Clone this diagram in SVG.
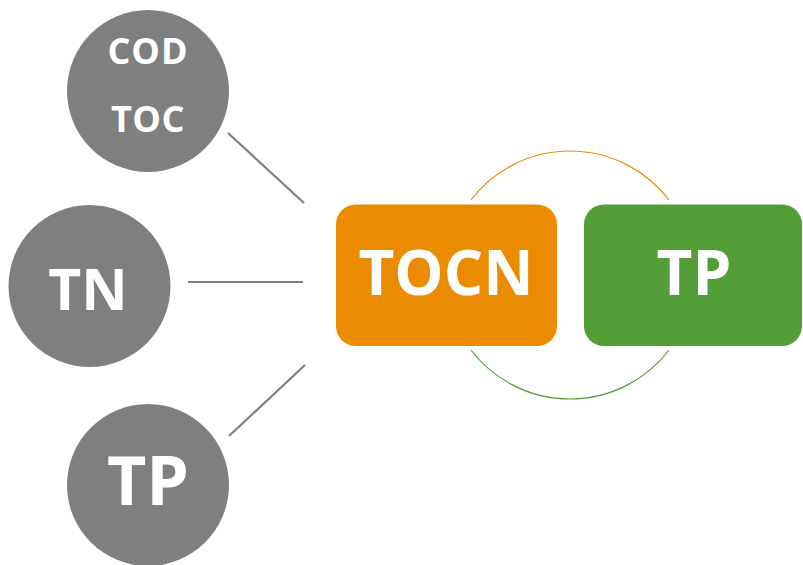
<svg xmlns="http://www.w3.org/2000/svg" width="803" height="565" viewBox="0 0 803 565">
  <style>
    .bubble { fill: #7f7f7f; }
    .lbl { fill: #ffffff; font-family: "Open Sans", "Noto Sans", "Liberation Sans", sans-serif; font-weight: bold; text-anchor: middle; }
    .link { stroke: #7f7f7f; stroke-width: 2.2; fill: none; }
  </style>
  <rect width="803" height="565" fill="#ffffff"/>

  <g id="connectors">
    <line class="link" x1="228" y1="133" x2="304" y2="203"/>
    <line class="link" x1="188" y1="282" x2="303" y2="282"/>
    <line class="link" x1="229" y1="436" x2="305" y2="365"/>
    <!-- arcs of one circle joining the two boxes -->
    <path d="M 471 200 A 124.5 124.5 0 0 1 669 200" stroke="#ea8c00" stroke-width="1.2" fill="none"/>
    <path d="M 471 350 A 124.5 124.5 0 0 0 669 350" stroke="#559e38" stroke-width="1.2" fill="none"/>
  </g>

  <g id="node-cod-toc">
    <circle class="bubble" cx="148" cy="91" r="81"/>
    <text class="lbl" x="148" y="64" font-size="36" letter-spacing="1">COD</text>
    <text class="lbl" x="148" y="132" font-size="36" letter-spacing="0.5">TOC</text>
  </g>

  <g id="node-tn">
    <circle class="bubble" cx="89.5" cy="286" r="81"/>
    <text class="lbl" x="88" y="310" font-size="57">TN</text>
  </g>

  <g id="node-tp-left">
    <circle class="bubble" cx="148" cy="485" r="81"/>
    <text class="lbl" x="148" y="505" font-size="68">TP</text>
  </g>

  <g id="node-tocn">
    <rect x="336" y="204.5" width="221" height="141.5" rx="20" fill="#eb8c00"/>
    <text class="lbl" x="446" y="295" font-size="62">TOCN</text>
  </g>

  <g id="node-tp-right">
    <rect x="584" y="204.5" width="218" height="141.5" rx="20" fill="#549e37"/>
    <text class="lbl" x="694" y="295" font-size="62">TP</text>
  </g>
</svg>
